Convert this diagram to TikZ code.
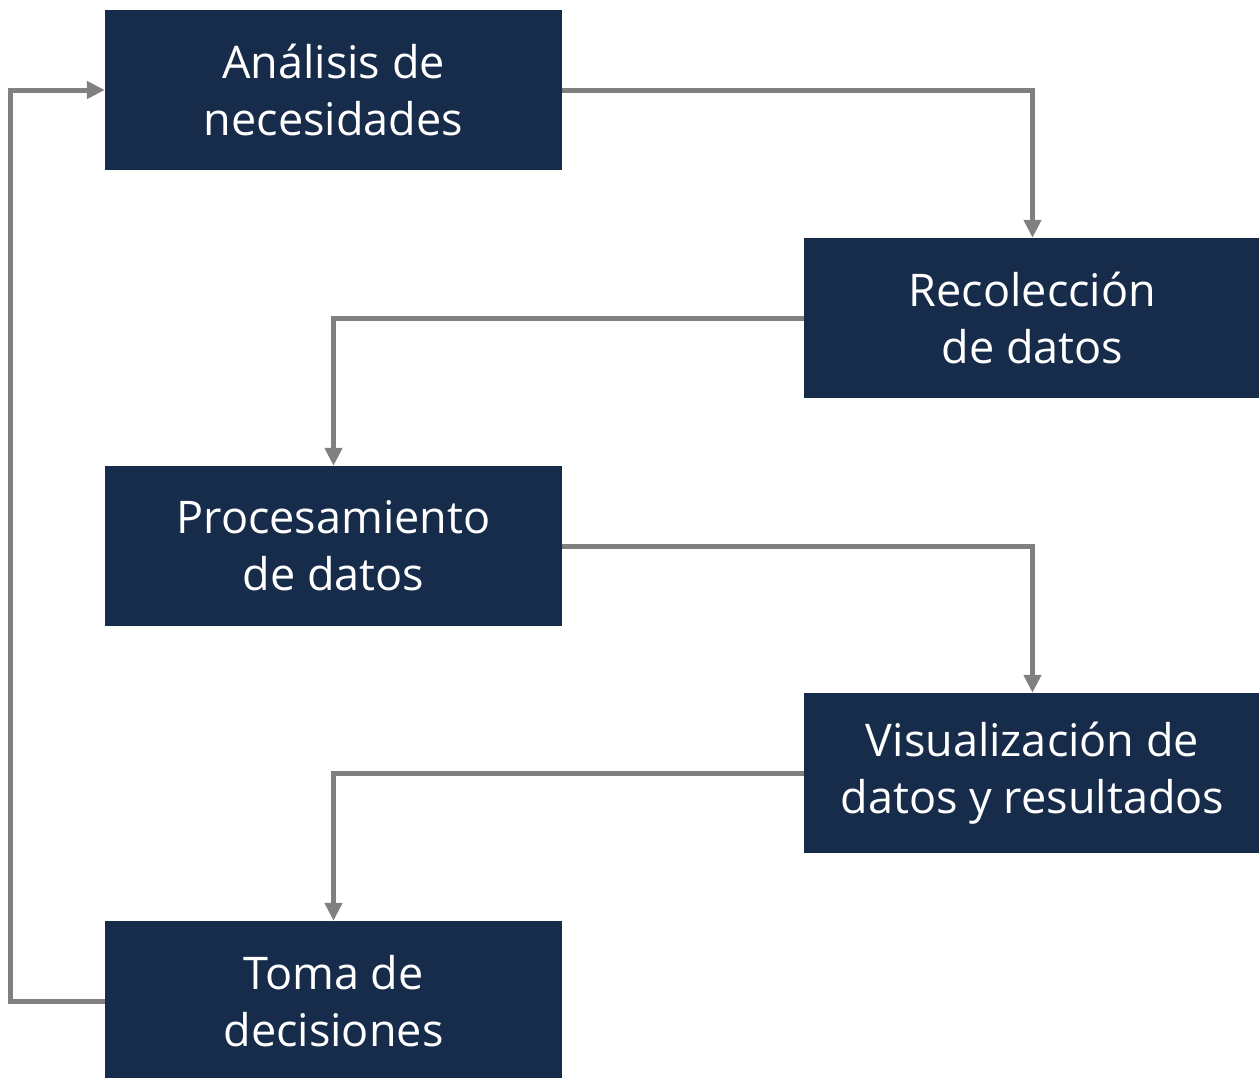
\documentclass[tikz,border=0pt]{standalone}
\usepackage{fontspec}
\setmainfont{Open Sans}
\usetikzlibrary{arrows.meta}
\definecolor{navy}{HTML}{172B4A}
\definecolor{conn}{HTML}{808080}
\begin{document}
\begin{tikzpicture}[x=1pt,y=-1pt,
  box/.style={fill=navy, text=white, minimum width=457pt, minimum height=160pt, inner sep=0pt, align=center,
    font=\fontsize{45}{57}\selectfont},
  link/.style={draw=conn, line width=5pt, -{Triangle[length=18pt,width=17pt]}}]
\useasboundingbox (0,0) rectangle (1259,1077);
\node[box] (b1) at (333.5,90) {Análisis de\\necesidades};
\node[box] (b2) at (1032.5,318) {Recolección\\de datos};
\node[box] (b3) at (333.5,546) {Procesamiento\\de datos};
\node[box] (b4) at (1032.5,773) {Visualización de\\datos y resultados};
\node[box] (b5) at (333.5,1001) {Toma de\\decisiones};
\coordinate (c5) at (10,1001);
\draw[link] (b1.east) -| (b2.north);
\draw[link] (b2.west) -| (b3.north);
\draw[link] (b3.east) -| (b4.north);
\draw[link] (b4.west) -| (b5.north);
\draw[link] (b5.west) -- (c5) |- (b1.west);
\end{tikzpicture}
\end{document}
